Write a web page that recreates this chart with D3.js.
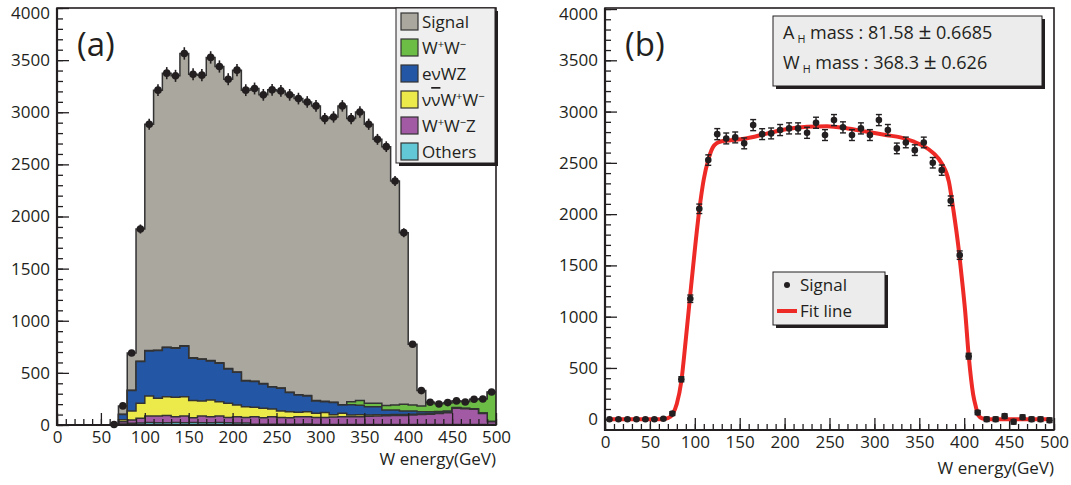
<!DOCTYPE html>
<html>
<head>
<meta charset="utf-8">
<script src="https://cdn.jsdelivr.net/npm/d3@7"></script>
<style>
	body { margin: 0; background: #fff; }
	text { font-family: "Open Sans", sans-serif; fill: #231f20; }
</style>
</head>
<body>
<svg id="chart" width="1071" height="485"></svg>
<script>

// Bins: 10 GeV wide, 0 - 500 GeV
var binStart = d3.range(0, 500, 10);

// Panel (a): stacked components per bin
var others = [0,0,0,0,0,0,0,10,16,18, 24,22,22,24,22,24,22,22,24,22, 20,20,8,8,8,8,8,8,10,6, 5,5,5,5,5,5,5,5,5,5, 5,5,5,5,5,5,5,5,5,4];
var wwz    = [0,0,0,0,0,0,0,20,32,46, 62,64,68,56,64,46,64,58,62,51, 60,53,72,62,72,65,62,72,70,66, 67,71,73,75,75,79,81,83,85,87, 91,95,99,105,113,155,150,145,105,26];
var nnww   = [0,0,0,0,0,0,0,20,87,144, 193,170,182,186,186,164,145,160,138,135, 112,103,90,90,74,62,58,42,48,40, 47,23,34,16,19,12,12,10,10,8, 8,6,6,5,4,3,3,3,3,3];
var enwz   = [0,0,0,0,0,0,0,50,195,401, 432,459,472,471,484,407,400,375,369,330, 314,247,247,234,211,218,183,166,151,119, 105,116,80,99,91,80,78,46,44,35, 31,22,18,15,13,5,2,2,1,1];
var ww     = [0,0,0,0,0,0,0,3,3,3, 3,3,3,3,3,3,3,3,3,3, 3,3,3,3,3,3,3,3,3,3, 3,3,3,29,44,32,32,42,48,64, 57,55,87,75,77,62,62,90,136,281];
var signal = [0,0,0,0,0,0,5,80,357,1268, 2171,2494,2628,2609,2805,2721,2722,2908,2843,2776, 2895,2786,2808,2770,2847,2849,2853,2840,2817,2827, 2712,2737,2866,2715,2769,2677,2532,2484,2148,1646, 583,147,3,0,3,1,0,2,0,2];

// Panel (a): data points (total)
var dataA = [null,null,null,null,null,null,5,183,690,1880, 2885,3212,3375,3349,3564,3365,3356,3526,3439,3317, 3404,3212,3228,3167,3215,3205,3167,3131,3099,3061, 2939,2955,3061,2939,3003,2885,2740,2670,2340,1845, 775,330,218,202,215,231,221,247,250,317];

// Panel (b): background subtracted signal points and errors
var dataB = [0,0,0,0,0,0,5,55,390,1175, 2052,2527,2780,2738,2748,2690,2868,2780,2787,2820, 2836,2836,2793,2891,2771,2917,2846,2771,2836,2771, 2917,2820,2641,2699,2624,2699,2501,2429,2130,1600, 615,65,0,0,30,-25,20,0,0,-10];
var errB  = [0,6,6,6,6,6,8,18,25,36, 46,51,54,53,53,53,54,53,53,54, 54,54,54,54,53,54,54,53,54,53, 54,54,52,52,52,52,51,50,47,41, 28,20,22,22,22,22,22,22,22,22];

// Panel (b): fit line
var fitX = [5,20,40,60,65,70,75,80,85,90,95,100,105,110,115,120,125,130,140,155,180,200,225,247,270,292,314,329,344,355,366,375,383,388,394,398,401,405,410,413,416,420,425,440,470,495];
var fitY = [0,0,0,0,2,10,45,150,370,780,1220,1650,2040,2340,2530,2650,2695,2710,2720,2735,2785,2825,2852,2858,2836,2803,2770,2748,2706,2663,2592,2494,2315,2039,1649,1324,1060,620,240,120,35,8,0,0,0,0];

var xTicks = [0, 50, 100, 150, 200, 250, 300, 350, 400, 450, 500];
var yTicks = [0, 500, 1000, 1500, 2000, 2500, 3000, 3500, 4000];

var stackKeys = ['others', 'wwz', 'nnww', 'enwz', 'ww', 'signal'];
var stackColors = {
	signal: '#aaa79f', ww: '#6cbd45', enwz: '#2357a5',
	nnww: '#ece94b', wwz: '#a25aa5', others: '#62c8d5'
};

// Legend labels, split in [text, style] pieces
var legendA = [
	{ key: 'signal', parts: [['Signal', '']] },
	{ key: 'ww',     parts: [['W', ''], ['+', 'sup'], ['W', ''], ['\u2212', 'sup']] },
	{ key: 'enwz',   parts: [['e\u03bdWZ', '']] },
	{ key: 'nnww',   parts: [['\u03bd', ''], ['\u03bd', 'bar'], ['W', ''], ['+', 'sup'], ['W', ''], ['\u2212', 'sup']] },
	{ key: 'wwz',    parts: [['W', ''], ['+', 'sup'], ['W', ''], ['\u2212', 'sup'], ['Z', '']] },
	{ key: 'others', parts: [['Others', '']] }
];

var statLines = [
	[['A', ''], ['H', 'sub'], [' mass : 81.58 ', ''], ['\u00b1', 'big'], [' 0.6685', '']],
	[['W', ''], ['H', 'sub'], [' mass : 368.3 ', ''], ['\u00b1', 'big'], [' 0.626', '']]
];

var ink = '#231f20';
var svg = d3.select('#chart');


// Writes pieces with super/subscripts into a text element
function writeParts(textEl, parts, size) {

	var shift = 0;   // baseline offset left by the previous piece

	parts.forEach(function(p) {

		var t = textEl.append('tspan').text(p[0]);
		var want = 0;

		if (p[1] === 'sup') {
			t.attr('font-size', size * 0.65);
			want = -size * 0.38;
		}
		else if (p[1] === 'sub') {
			t.attr('font-size', size * 0.6).attr('dx', 3);
			want = size * 0.22;
		}
		else if (p[1] === 'big') {
			t.attr('font-size', size * 1.25);
		}
		else if (p[1] === 'bar') {
			t.style('text-decoration', 'overline');
		}

		if (want !== shift) t.attr('dy', want - shift);
		shift = want;
	});
}


// Axes, ticks and frame for one panel
function drawFrame(g, x, y, w, h, isB) {

	var minorX = d3.range(0, 501, 10);
	var minorY = d3.range(0, 4001, 100);

	g.append('g')
		.attr('transform', 'translate(0,' + h + ')')
		.call(d3.axisBottom(x).tickValues(minorX).tickSize(-6).tickFormat(''))
		.call((a) => a.select('.domain').remove());

	g.append('g')
		.attr('transform', 'translate(0,' + h + ')')
		.call(d3.axisBottom(x).tickValues(xTicks).tickSize(-12).tickPadding(6).tickFormat(d3.format('d')))
		.call((a) => a.select('.domain').remove());

	g.append('g')
		.call(d3.axisLeft(y).tickValues(minorY).tickSize(-6).tickFormat(''))
		.call((a) => a.select('.domain').remove());

	var yAx = g.append('g')
		.call(d3.axisLeft(y).tickValues(yTicks).tickSize(-12).tickPadding(7).tickFormat(d3.format('d')))
		.call((a) => a.select('.domain').remove());

	// top label sits a bit lower, as in ROOT
	yAx.selectAll('.tick text').filter((d) => d === 4000).attr('dy', '0.62em');

	g.selectAll('.tick line').attr('stroke', ink).attr('stroke-width', 1.3);
	g.selectAll('.tick text').attr('font-size', 17).attr('font-family', '"Open Sans", sans-serif').attr('fill', ink);

	g.append('rect')
		.attr('width', w).attr('height', h)
		.attr('fill', 'none').attr('stroke', ink).attr('stroke-width', 1.6);

	// thicker left / bottom axis lines
	g.append('path')
		.attr('d', 'M0,0V' + h + 'H' + w)
		.attr('fill', 'none').attr('stroke', ink).attr('stroke-width', 2.2);

	g.append('text')
		.attr('x', w).attr('y', h + (isB ? 44 : 40))
		.attr('text-anchor', 'end').attr('font-size', 17)
		.text('W energy(GeV)');
}


/* Panel (a) */
(function() {

	var left = 57, top = 8, w = 439, h = 417;
	var g = svg.append('g').attr('transform', 'translate(' + left + ',' + top + ')');

	var x = d3.scaleLinear().domain([0, 500]).range([0, w]);
	var y = d3.scaleLinear().domain([0, 4000]).range([h, 0]);

	var rows = binStart.map(function(b, i) {
		return { x: b, others: others[i], wwz: wwz[i], nnww: nnww[i],
			enwz: enwz[i], ww: ww[i], signal: signal[i] };
	});
	// repeat last bin so the step reaches 500
	rows.push(Object.assign({}, rows[rows.length - 1], { x: 500 }));

	var layers = d3.stack().keys(stackKeys)(rows);

	var area = d3.area()
		.curve(d3.curveStepAfter)
		.x((d) => x(d.data.x))
		.y0(h)
		.y1((d) => y(d[1]));

	var line = d3.line()
		.curve(d3.curveStepAfter)
		.x((d) => x(d.data.x))
		.y((d) => y(d[1]));

	// Draw biggest (top of stack) first, like a THStack
	layers.slice().reverse().forEach(function(layer) {

		g.append('path')
			.attr('d', area(layer))
			.attr('fill', stackColors[layer.key]);

		g.append('path')
			.attr('d', line(layer))
			.attr('fill', 'none')
			.attr('stroke', '#333')
			.attr('stroke-width', 1.5);
	});

	// Data points with sqrt(N) bars
	var pts = binStart.map((b, i) => ({ x: b + 5, v: dataA[i] }))
		.filter((d) => d.v !== null);

	g.selectAll('line.err')
		.data(pts).enter()
		.append('line')
		.attr('x1', (d) => x(d.x)).attr('x2', (d) => x(d.x))
		.attr('y1', (d) => y(d.v + Math.sqrt(d.v))).attr('y2', (d) => y(d.v - Math.sqrt(d.v)))
		.attr('stroke', ink).attr('stroke-width', 1.6);

	g.selectAll('circle.pt')
		.data(pts).enter()
		.append('circle')
		.attr('cx', (d) => x(d.x)).attr('cy', (d) => y(d.v))
		.attr('r', 3.8).attr('fill', ink);

	drawFrame(g, x, y, w, h, false);

	g.append('text')
		.attr('x', 20).attr('y', 48)
		.attr('font-size', 33)
		.text('(a)');

	// Legend
	var lg = svg.append('g').attr('transform', 'translate(396,8)');
	var lw = 99, lh = 155;

	lg.append('rect').attr('x', 3).attr('y', 3).attr('width', lw).attr('height', lh).attr('fill', ink);
	lg.append('rect').attr('width', lw).attr('height', lh)
		.attr('fill', '#efefef').attr('stroke', ink).attr('stroke-width', 1);

	legendA.forEach(function(item, i) {

		var cy = 14 + i * 26;

		lg.append('rect')
			.attr('x', 5).attr('y', cy - 9)
			.attr('width', 17).attr('height', 17)
			.attr('fill', stackColors[item.key])
			.attr('stroke', '#333').attr('stroke-width', 1.2);

		var t = lg.append('text')
			.attr('x', 26).attr('y', cy + 6)
			.attr('font-size', 17);

		writeParts(t, item.parts, 17);
	});
})();


/* Panel (b) */
(function() {

	var left = 605, top = 8, w = 449, h = 422;
	var g = svg.append('g').attr('transform', 'translate(' + left + ',' + top + ')');

	var x = d3.scaleLinear().domain([0, 500]).range([0, w]);
	var y = d3.scaleLinear().domain([-105, 4010]).range([h, 0]);

	drawFrame(g, x, y, w, h, true);

	var fit = d3.line()
		.curve(d3.curveMonotoneX)
		.x((d) => x(d[0]))
		.y((d) => y(d[1]));

	g.append('path')
		.attr('d', fit(fitX.map((v, i) => [v, fitY[i]])))
		.attr('fill', 'none')
		.attr('stroke', '#ee2a27')
		.attr('stroke-width', 4)
		.attr('stroke-linejoin', 'round');

	var pts = binStart.map((b, i) => ({ x: b + 5, v: dataB[i], e: errB[i] }));

	var bars = g.selectAll('g.err')
		.data(pts.filter((d) => d.e > 0)).enter()
		.append('g')
		.attr('stroke', ink).attr('stroke-width', 1.4);

	bars.append('line')
		.attr('x1', (d) => x(d.x)).attr('x2', (d) => x(d.x))
		.attr('y1', (d) => y(d.v + d.e)).attr('y2', (d) => y(d.v - d.e));

	bars.append('line')
		.attr('x1', (d) => x(d.x) - 3).attr('x2', (d) => x(d.x) + 3)
		.attr('y1', (d) => y(d.v + d.e)).attr('y2', (d) => y(d.v + d.e));

	bars.append('line')
		.attr('x1', (d) => x(d.x) - 3).attr('x2', (d) => x(d.x) + 3)
		.attr('y1', (d) => y(d.v - d.e)).attr('y2', (d) => y(d.v - d.e));

	g.selectAll('circle.pt')
		.data(pts).enter()
		.append('circle')
		.attr('cx', (d) => x(d.x)).attr('cy', (d) => y(d.v))
		.attr('r', 3.3).attr('fill', ink);

	g.append('text')
		.attr('x', 20).attr('y', 48)
		.attr('font-size', 33)
		.text('(b)');

	// Fit results box
	var sb = svg.append('g').attr('transform', 'translate(773,16)');
	sb.append('rect').attr('x', 3).attr('y', 3).attr('width', 269).attr('height', 70).attr('fill', ink);
	sb.append('rect').attr('width', 269).attr('height', 70)
		.attr('fill', '#ececec').attr('stroke', ink).attr('stroke-width', 1);

	statLines.forEach(function(parts, i) {
		var t = sb.append('text')
			.attr('x', 10).attr('y', 23 + i * 30)
			.attr('font-size', 18);
		writeParts(t, parts, 18);
	});

	// Legend
	var lg = svg.append('g').attr('transform', 'translate(773,272)');
	lg.append('rect').attr('x', 3).attr('y', 3).attr('width', 112).attr('height', 53).attr('fill', ink);
	lg.append('rect').attr('width', 112).attr('height', 53)
		.attr('fill', '#ececec').attr('stroke', ink).attr('stroke-width', 1);

	lg.append('circle').attr('cx', 14).attr('cy', 13).attr('r', 3).attr('fill', ink);
	lg.append('text').attr('x', 27).attr('y', 19).attr('font-size', 17).text('Signal');

	lg.append('line')
		.attr('x1', 4).attr('x2', 24).attr('y1', 39).attr('y2', 39)
		.attr('stroke', '#ee2a27').attr('stroke-width', 4);
	lg.append('text').attr('x', 27).attr('y', 45).attr('font-size', 17).text('Fit line');
})();

</script>
</body>
</html>
